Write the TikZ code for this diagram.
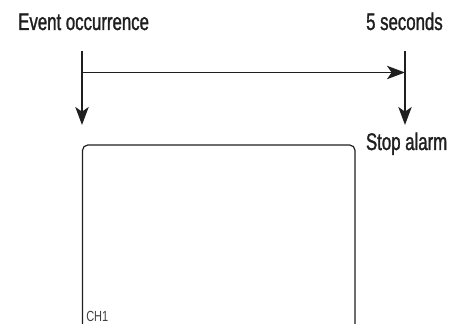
\documentclass[tikz,border=0pt]{standalone}
\usepackage{fontspec}
\setmainfont{Liberation Sans}
\newfontfamily\cond[FakeStretch=0.7,FakeBold=1.2]{Liberation Sans}
\newfontfamily\condlight[FakeStretch=0.75]{Liberation Sans}
\usetikzlibrary{arrows.meta}
\begin{document}
\begin{tikzpicture}[x=0.75pt,y=-0.75pt,
  lbl/.style={inner sep=0pt,font=\cond\fontsize{18pt}{20pt}\selectfont,text=black!88},
  conn/.style={line width=1.4pt,draw=black!88,-{Stealth[length=13.5pt,width=10pt,inset=3.5pt]}},
  screen/.style={line width=0.9pt,draw=black!88,rounded corners=4pt}]
\useasboundingbox (0,0) rectangle (449,324);
\node[lbl,anchor=base west] (ev) at (18,30) {Event occurrence};
\node[lbl,anchor=base east] (sec) at (443,30) {5 seconds};
\node[lbl,anchor=base east] (stop) at (447.5,150) {Stop alarm};
\coordinate (a1) at (82,51);
\coordinate (a2) at (82,125);
\coordinate (b1) at (405,51);
\coordinate (b2) at (405,125);
\coordinate (h1) at (82,72.5);
\coordinate (h2) at (405,72.5);
\draw[conn] (a1) -- (a2);
\draw[conn] (b1) -- (b2);
\draw[conn] (h1) -- (h2);
\draw[screen] (82.5,330) -- (82.5,145) -- (355,145) -- (355,330);
\node[inner sep=0pt,anchor=base west,font=\condlight\fontsize{11pt}{12pt}\selectfont,text=black!75] (ch) at (86,321.5) {CH1};
\end{tikzpicture}
\end{document}
